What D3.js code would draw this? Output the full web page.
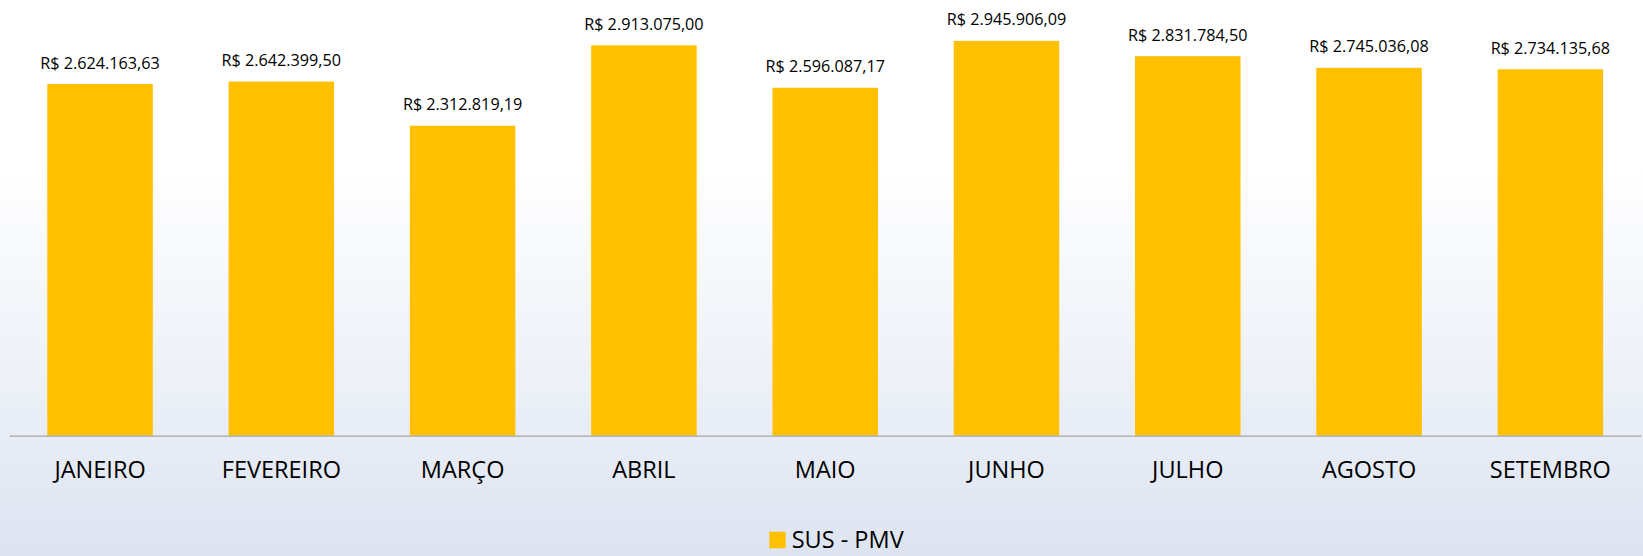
<!DOCTYPE html>
<html>
<head>
<meta charset="utf-8">
<script src="https://cdn.jsdelivr.net/npm/d3@7"></script>
<style>
  html, body { margin: 0; padding: 0; overflow: hidden; }
  text { font-family: "Open Sans", "Noto Sans", sans-serif; fill: #000; }
</style>
</head>
<body>
<script>
'use strict'

const months = ['JANEIRO', 'FEVEREIRO', 'MARÇO', 'ABRIL', 'MAIO', 'JUNHO', 'JULHO', 'AGOSTO', 'SETEMBRO']
const values = [2624163.63, 2642399.50, 2312819.19, 2913075.00, 2596087.17, 2945906.09, 2831784.50, 2745036.08, 2734135.68]
const seriesName = 'SUS - PMV'

const width = 1643
const height = 556
const baseline = 435.7

const fmt = d3.formatLocale({decimal: ',', thousands: '.', grouping: [3], currency: ['R$ ', '']})
const money = v => 'R$ ' + fmt.format(',.2f')(v)

const x = d3.scaleBand()
  .domain(months)
  .range([9.4, 1641])
  .paddingInner(0.418)
  .paddingOuter(0.209)

const y = d3.scaleLinear()
  .domain([0, 3000000])
  .range([baseline, baseline - 3000000 * 1.3402e-4])

const svg = d3.select('body').append('svg')
    .attr('width', width)
    .attr('height', height)

const grad = svg.append('defs').append('linearGradient')
    .attr('id', 'bg')
    .attr('x1', 0).attr('y1', 0).attr('x2', 0).attr('y2', 1)
grad.append('stop').attr('offset', '0%').attr('stop-color', '#ffffff')
grad.append('stop').attr('offset', '30%').attr('stop-color', '#ffffff')
grad.append('stop').attr('offset', '100%').attr('stop-color', '#dde4f1')

svg.append('rect')
    .attr('width', width)
    .attr('height', height)
    .attr('fill', 'url(#bg)')

svg.selectAll('.bar')
    .data(values)
  .enter().append('rect')
    .attr('class', 'bar')
    .attr('x', (d, i) => x(months[i]))
    .attr('y', d => y(d))
    .attr('width', x.bandwidth())
    .attr('height', d => y(0) - y(d))
    .attr('fill', '#ffc000')

// value labels
svg.selectAll('.val')
    .data(values)
  .enter().append('text')
    .attr('class', 'val')
    .attr('x', (d, i) => x(months[i]) + x.bandwidth() / 2)
    .attr('y', d => y(d) - 15.5)
    .attr('text-anchor', 'middle')
    .style('font-size', '16.2px')
    .text(d => money(d))

const xAxis = d3.axisBottom(x).tickSize(0).tickPadding(26)

svg.append('g')
    .attr('class', 'x axis')
    .attr('transform', 'translate(0,' + baseline + ')')
    .call(xAxis)
    .call(g => g.select('.domain').attr('stroke', '#a6a6a6').attr('stroke-width', 1.3))
    .call(g => g.selectAll('text')
      .style('font-size', '23.5px')
      .attr('fill', '#000'))

// legend
const legend = svg.append('g')
    .attr('transform', 'translate(769.3,531.7)')

legend.append('rect')
    .attr('width', 16.4)
    .attr('height', 16.6)
    .attr('fill', '#ffc000')

legend.append('text')
    .attr('x', 22.4)
    .attr('y', 16)
    .style('font-size', '23.5px')
    .text(seriesName)
</script>
</body>
</html>
